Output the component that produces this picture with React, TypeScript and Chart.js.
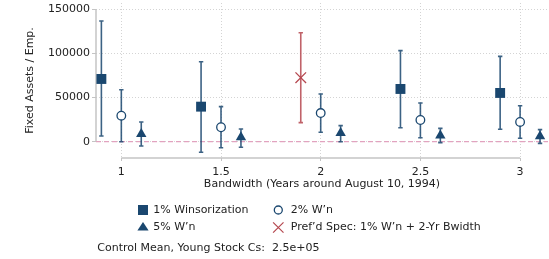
import { useEffect, useRef } from 'react';
import { Chart, registerables } from 'chart.js';
Chart.register(...registerables);

// ---------- data ----------
const xTickValues = [1, 1.5, 2, 2.5, 3];
const yTickValues = [0, 50000, 100000, 150000];

const w1X = [0.9, 1.4, 2.4, 2.9];
const w1Mean = [70900, 39600, 59600, 55100];
const w1Lo = [6400, -12000, 15800, 14000];
const w1Hi = [136400, 90400, 102900, 96500];

const w2X = [1.0, 1.5, 2.0, 2.5, 3.0];
const w2Mean = [29400, 16300, 32400, 24500, 22300];
const w2Lo = [0, -6800, 10600, 4500, 3800];
const w2Hi = [58800, 39600, 53900, 43800, 40700];

const w5X = [1.1, 1.6, 2.1, 2.6, 3.1];
const w5Mean = [8600, 4900, 9700, 6900, 6200];
const w5Lo = [-4900, -6300, 0, -1100, -1900];
const w5Hi = [22300, 14400, 18100, 15100, 13600];

const prefX = [1.9];
const prefMean = [72400];
const prefLo = [21500];
const prefHi = [123200];

const legendLabels = ['1% Winsorization', '2% W\u2019n', '5% W\u2019n', 'Pref\u2019d Spec: 1% W\u2019n + 2-Yr Bwidth'];
const noteText = 'Control Mean, Young Stock Cs:  2.5e+05';
const xTitle = 'Bandwidth (Years around August 10, 1994)';
const yTitle = 'Fixed Assets / Emp.';

// ---------- styles ----------
const NAVY = '#1a476f';
const NAVY_BAR = 'rgba(26,71,111,0.85)';
const RED = '#b5474f';
const RED_BAR = 'rgba(181,71,79,0.85)';
const PINK = '#e2a3bf';
const AXIS = '#c4c4c4';
const GRID = '#d4d4d4';
const TEXT = '#222222';
const FONT = '"DejaVu Sans", Verdana, sans-serif';

const pts = (xs: number[], ys: number[]) => xs.map((x, i) => ({ x, y: ys[i] }));

const errorBarPlugin = {
  id: 'errorBars',
  beforeDatasetsDraw(chart: any) {
    const { ctx, chartArea, scales } = chart;
    const xs = scales.x, ys = scales.y;
    ctx.save();
    // axis lines (span the tick range only)
    ctx.strokeStyle = AXIS;
    ctx.lineWidth = 1.5;
    ctx.beginPath();
    ctx.moveTo(chartArea.left, ys.getPixelForValue(yTickValues[0]));
    ctx.lineTo(chartArea.left, ys.getPixelForValue(yTickValues[yTickValues.length - 1]));
    ctx.stroke();
    ctx.beginPath();
    ctx.moveTo(xs.getPixelForValue(xTickValues[0]), chartArea.bottom);
    ctx.lineTo(xs.getPixelForValue(xTickValues[xTickValues.length - 1]), chartArea.bottom);
    ctx.stroke();
    // zero reference line
    const y0 = ys.getPixelForValue(0);
    ctx.strokeStyle = PINK;
    ctx.lineWidth = 1.2;
    ctx.setLineDash([5, 3]);
    ctx.beginPath();
    ctx.moveTo(chartArea.left, y0);
    ctx.lineTo(chartArea.right, y0);
    ctx.stroke();
    ctx.setLineDash([]);
    // error bars
    chart.data.datasets.forEach((ds: any) => {
      ctx.strokeStyle = ds.barColor;
      ctx.lineWidth = 1.6;
      ds.data.forEach((p: any, j: number) => {
        const px = xs.getPixelForValue(p.x);
        const lo = ys.getPixelForValue(ds.lo[j]);
        const hi = ys.getPixelForValue(ds.hi[j]);
        ctx.beginPath();
        ctx.moveTo(px, lo);
        ctx.lineTo(px, hi);
        ctx.moveTo(px - 2.2, lo);
        ctx.lineTo(px + 2.2, lo);
        ctx.moveTo(px - 2.2, hi);
        ctx.lineTo(px + 2.2, hi);
        ctx.stroke();
      });
    });
    ctx.restore();
  },
};

const legendPlugin = {
  id: 'customLegend',
  afterDraw(chart: any) {
    const { ctx, chartArea } = chart;
    const L = chartArea.left;
    const r1 = 210, r2 = 227.5, r3 = 248;
    const c1m = L + 47, c1t = L + 57.3, c2m = L + 182.3, c2t = L + 194.7;
    ctx.save();
    ctx.font = `11px ${FONT}`;
    ctx.textBaseline = 'middle';
    ctx.textAlign = 'left';
    ctx.fillStyle = TEXT;
    ctx.fillText(legendLabels[0], c1t, r1);
    ctx.fillText(legendLabels[1], c2t, r1);
    ctx.fillText(legendLabels[2], c1t, r2);
    ctx.fillText(legendLabels[3], c2t, r2);
    ctx.fillText(noteText, L + 1.3, r3);
    // square
    ctx.fillStyle = NAVY;
    ctx.fillRect(c1m - 5, r1 - 5, 10, 10);
    // circle
    ctx.strokeStyle = NAVY;
    ctx.lineWidth = 1.3;
    ctx.beginPath();
    ctx.arc(c2m, r1, 4, 0, Math.PI * 2);
    ctx.stroke();
    // triangle
    ctx.beginPath();
    ctx.moveTo(c1m, r2 - 5.5);
    ctx.lineTo(c1m + 5.6, r2 + 3);
    ctx.lineTo(c1m - 5.6, r2 + 3);
    ctx.closePath();
    ctx.fill();
    // X
    ctx.strokeStyle = RED;
    ctx.lineWidth = 1.2;
    ctx.beginPath();
    ctx.moveTo(c2m - 5.2, r2 - 5.2);
    ctx.lineTo(c2m + 5.2, r2 + 5.2);
    ctx.moveTo(c2m + 5.2, r2 - 5.2);
    ctx.lineTo(c2m - 5.2, r2 + 5.2);
    ctx.stroke();
    ctx.restore();
  },
};

const zeroPad = (s: any) => { s.paddingTop = 0; s.paddingBottom = 0; s.paddingLeft = 0; s.paddingRight = 0; };

export default function App() {
  const ref = useRef<HTMLCanvasElement>(null);
  useEffect(() => {
    document.body.style.margin = '0';
    const chart = new Chart(ref.current as HTMLCanvasElement, {
      type: 'scatter',
      data: {
        datasets: [
          {
            label: legendLabels[0],
            data: pts(w1X, w1Mean),
            lo: w1Lo, hi: w1Hi, barColor: NAVY_BAR,
            pointStyle: 'rect', pointRadius: 7, pointBackgroundColor: NAVY, pointBorderColor: NAVY, pointBorderWidth: 0,
          } as any,
          {
            label: legendLabels[1],
            data: pts(w2X, w2Mean),
            lo: w2Lo, hi: w2Hi, barColor: NAVY_BAR,
            pointStyle: 'circle', pointRadius: 4.3, pointBackgroundColor: '#ffffff', pointBorderColor: NAVY, pointBorderWidth: 1.3,
          } as any,
          {
            label: legendLabels[2],
            data: pts(w5X, w5Mean),
            lo: w5Lo, hi: w5Hi, barColor: NAVY_BAR,
            pointStyle: 'triangle', pointRadius: 6, pointBackgroundColor: NAVY, pointBorderColor: NAVY, pointBorderWidth: 0,
          } as any,
          {
            label: legendLabels[3],
            data: pts(prefX, prefMean),
            lo: prefLo, hi: prefHi, barColor: RED_BAR,
            pointStyle: 'crossRot', pointRadius: 7.5, pointBackgroundColor: RED, pointBorderColor: RED, pointBorderWidth: 1.3,
          } as any,
        ],
      },
      options: {
        animation: false,
        responsive: false,
        maintainAspectRatio: false,
        layout: { autoPadding: false, padding: { left: 0, right: 1, top: 3, bottom: 67 } },
        plugins: { legend: { display: false }, tooltip: { enabled: false } },
        scales: {
          x: {
            type: 'linear',
            min: 0.873,
            max: 3.14,
            afterBuildTicks: (s: any) => { s.ticks = xTickValues.map((v) => ({ value: v })); },
            afterFit: (s: any) => { s.height = 34; zeroPad(s); },
            ticks: {
              color: TEXT, font: { family: FONT, size: 11 }, padding: 5,
              maxRotation: 0, autoSkip: false,
              callback: (v: any) => String(v),
            },
            grid: { color: GRID, lineWidth: 1, tickLength: 3, tickColor: AXIS, tickWidth: 1 },
            border: { display: false, dash: [1, 2] },
            title: { display: true, text: xTitle, color: TEXT, font: { family: FONT, size: 11 }, padding: { top: 0, bottom: 1 } },
          },
          y: {
            type: 'linear',
            min: -18450,
            max: 156800,
            afterBuildTicks: (s: any) => { s.ticks = yTickValues.map((v) => ({ value: v })); },
            afterFit: (s: any) => { s.width = 96; zeroPad(s); },
            ticks: {
              color: TEXT, font: { family: FONT, size: 11 }, padding: 2,
              callback: (v: any) => String(v),
            },
            grid: { color: GRID, lineWidth: 1, tickLength: 4, tickColor: AXIS, tickWidth: 1 },
            border: { display: false, dash: [1, 2] },
            title: { display: true, text: yTitle, color: TEXT, font: { family: FONT, size: 11 }, padding: { top: 24, bottom: 0 } },
          },
        },
      } as any,
      plugins: [errorBarPlugin, legendPlugin],
    });
    return () => chart.destroy();
  }, []);
  return (
    <div style={{ width: 549, height: 259, background: '#ffffff' }}>
      <canvas ref={ref} width={549} height={259} style={{ display: 'block', width: 549, height: 259 }} />
    </div>
  );
}
